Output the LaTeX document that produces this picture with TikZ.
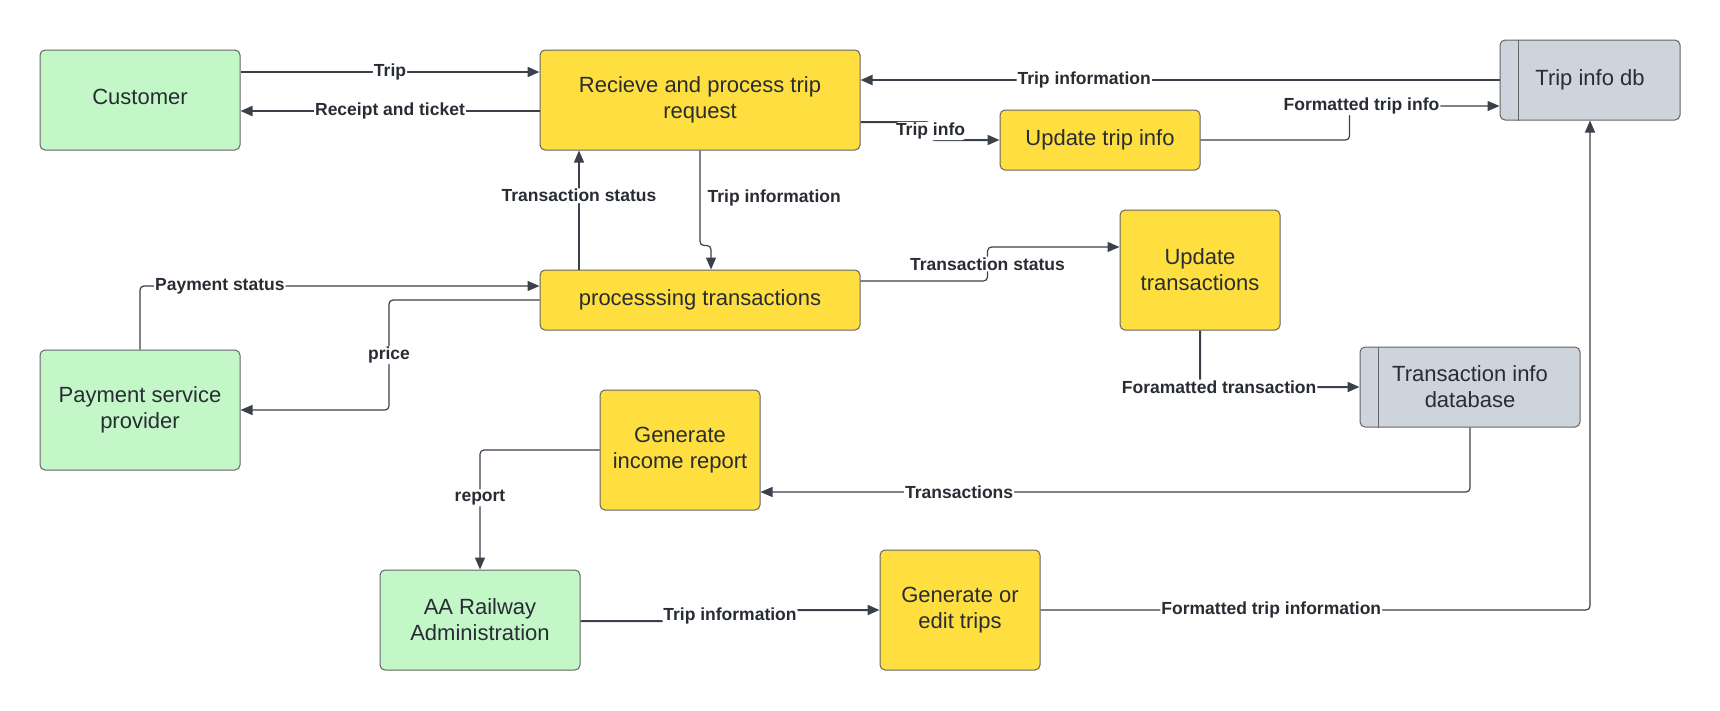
\documentclass[tikz,border=0pt]{standalone}
\usepackage{fontspec}
\setmainfont{Liberation Sans}
\setsansfont{Liberation Sans}
\usetikzlibrary{arrows.meta}
\definecolor{extgreen}{RGB}{195, 247, 200}
\definecolor{procyellow}{RGB}{255, 223, 64}
\definecolor{storegray}{RGB}{206, 212, 219}
\definecolor{boxedge}{RGB}{100, 100, 100}
\definecolor{flowdark}{RGB}{58, 65, 74}
\definecolor{inkdark}{RGB}{40, 44, 51}

\begin{document}
\begin{tikzpicture}[x=1pt, y=-1pt, font=\sffamily,
  box/.style={draw=boxedge, line width=1pt, rounded corners=5pt, align=center, text=inkdark, font=\sffamily\fontsize{22}{26}\selectfont, inner sep=0pt},
  extbox/.style={box, fill=extgreen},
  procbox/.style={box, fill=procyellow},
  storebox/.style={box, fill=storegray},
  flowline/.style={draw=flowdark, line width=1.2pt, rounded corners=4pt, -{Triangle[length=12pt, width=10pt]}},
  heavy/.style={line width=2pt},
  flowlbl/.style={fill=white, text=inkdark, font=\sffamily\bfseries\fontsize{17.5}{20}\selectfont, inner sep=1pt}]
  \useasboundingbox (0, 0) rectangle (1720, 710);

  % External entities (green)
  \node[extbox, minimum width=200pt, minimum height=100pt, text depth=6pt] (customer) at (140, 100) {Customer};
  \node[extbox, minimum width=200pt, minimum height=120pt] (psp) at (140, 410) {Payment service\\provider};
  \node[extbox, minimum width=200pt, minimum height=100pt] (admin) at (480, 620) {AA Railway\\Administration};

  % Processes (yellow)
  \node[procbox, minimum width=320pt, minimum height=100pt] (recv) at (700, 100) {Recieve and process trip\\request};
  \node[procbox, minimum width=200pt, minimum height=60pt] (updtrip) at (1100, 140) {Update trip info};
  \node[procbox, minimum width=320pt, minimum height=60pt] (proc) at (700, 300) {processsing transactions};
  \node[procbox, minimum width=160pt, minimum height=120pt] (updtrans) at (1200, 270) {Update\\transactions};
  \node[procbox, minimum width=160pt, minimum height=120pt] (income) at (680, 450) {Generate\\income report};
  \node[procbox, minimum width=160pt, minimum height=120pt] (gentrips) at (960, 610) {Generate or\\edit trips};

  % Data stores (gray, with divider)
  \node[storebox, minimum width=180pt, minimum height=80pt] (tripdb) at (1590, 80) {Trip info db};
  \node[storebox, minimum width=220pt, minimum height=80pt] (transdb) at (1470, 387) {Transaction info\\database};
  \draw[boxedge, line width=1pt] ([xshift=19pt]tripdb.north west) -- ([xshift=19pt]tripdb.south west);
  \draw[boxedge, line width=1pt] ([xshift=19pt]transdb.north west) -- ([xshift=19pt]transdb.south west);

  % Customer <-> trip request
  \draw[flowline, heavy] ([yshift=28pt]customer.east) -- node[flowlbl]{Trip} ([yshift=28pt]customer.east -| recv.west);
  \draw[flowline, heavy] ([yshift=-11pt]customer.east -| recv.west) -- node[flowlbl]{Receipt and ticket} ([yshift=-11pt]customer.east);

  % Trip info flows
  \draw[flowline, heavy] (tripdb.west) -- node[flowlbl, pos=0.65]{Trip information} (tripdb.west -| recv.east);
  \draw[flowline, heavy] ([yshift=-22pt]recv.east) -- ++(70, 0) |- node[flowlbl, pos=0.25]{Trip info} (updtrip.west);
  \draw[flowline] (updtrip.east) -- ++(149, 0) |- node[flowlbl, pos=0.54]{Formatted trip info} ([yshift=-26pt]tripdb.west);

  % Trip request <-> transactions
  \draw[flowline] ([xshift=-121pt]proc.north) -- node[flowlbl, pos=0.62]{Transaction status} ([xshift=-121pt]proc.north |- recv.south);
  \draw[flowline] (recv.south) -- node[flowlbl, anchor=west, xshift=6pt]{Trip information} ++(0, 95) -| ([xshift=11pt]proc.north);

  % Payment
  \draw[flowline] (psp.north) |- node[flowlbl, pos=0.6]{Payment status} ([yshift=14pt]proc.west);
  \draw[flowline] (proc.west) -- ++(-150.5, 0) |- node[flowlbl, pos=0.25]{price} (psp.east);

  % Transaction store
  \draw[flowline] ([yshift=19pt]proc.east) -- ++(127, 0) |- node[flowlbl, pos=0.25]{Transaction status} ([yshift=23pt]updtrans.west);
  \draw[flowline, heavy] (updtrans.south) |- node[flowlbl, pos=0.56]{Foramatted transaction} (transdb.west);
  \draw[flowline] (transdb.south) |- node[flowlbl, pos=0.86]{Transactions} ([yshift=-42pt]income.east);

  % Administration
  \draw[flowline] (income.west) -| node[flowlbl, pos=0.7]{report} (admin.north);
  \draw[flowline, heavy] ([yshift=-1pt]admin.east) -- ++(149.5, 0) |- node[flowlbl, pos=0.25]{Trip information} (gentrips.west);
  \draw[flowline] (gentrips.east) -| node[flowlbl, pos=0.21]{Formatted trip information} (tripdb.south);
\end{tikzpicture}
\end{document}
